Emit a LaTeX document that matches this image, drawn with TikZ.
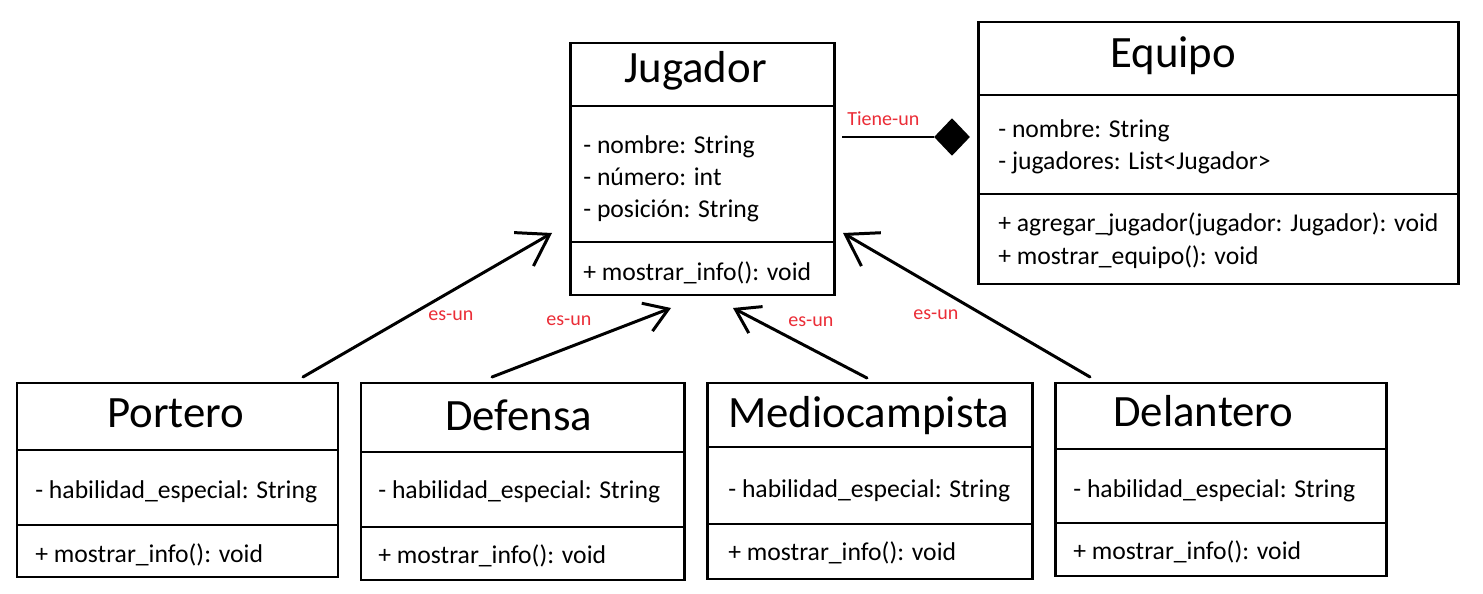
\documentclass[tikz,border=0pt]{standalone}
\usepackage{fontspec}
\setmainfont{Carlito}
\usetikzlibrary{arrows.meta,fit,shapes.geometric}
\definecolor{lblred}{RGB}{235,45,55}
\tikzset{
  umlbox/.style={draw, line width=1.7pt, inner sep=0pt},
  divider/.style={line width=1.7pt},
  ttl/.style={font=\fontsize{25.5}{28}\selectfont, anchor=base west, inner sep=0pt},
  attr/.style={font=\fontsize{14.6}{17}\selectfont, anchor=base west, inner sep=0pt},
  lbl/.style={font=\fontsize{11.4}{13}\selectfont, text=lblred, anchor=base west, inner sep=0pt},
  isabig/.style={line width=1.7pt, line cap=round, -{Straight Barb[length=17pt,width=22pt,line width=1.7pt]}},
  isasmall/.style={line width=1.7pt, line cap=round, -{Straight Barb[length=13pt,width=17pt,line width=1.7pt]}},
  compo/.style={line width=1.7pt},
}
\begin{document}
\begin{tikzpicture}[x=0.02cm,y=-0.02cm]
\useasboundingbox (0,0) rectangle (1483,594);
\fill[white] (0,0) rectangle (1483,594);

% ---------- Jugador ----------
\coordinate (j1) at (570,43); \coordinate (j2) at (834,295);
\node[umlbox, fit=(j1)(j2)] (jugador) {};
\draw[divider] (570,106) -- (834,106);
\draw[divider] (570,242) -- (834,242);
\node[ttl] (jt) at (624,83) {Jugador};
\node[attr] (ja1) at (583,154) {- nombre: String};
\node[attr] (ja2) at (583,186) {- número: int};
\node[attr] (ja3) at (583,218) {- posición: String};
\node[attr] (jm1) at (583,281) {+ mostrar\_info(): void};

% ---------- Equipo ----------
\coordinate (e1) at (978,22); \coordinate (e2) at (1458,284);
\node[umlbox, fit=(e1)(e2)] (equipo) {};
\draw[divider] (978,95) -- (1458,95);
\draw[divider] (978,194) -- (1458,194);
\node[ttl] (et) at (1110,68) {Equipo};
\node[attr] (ea1) at (998,138) {- nombre: String};
\node[attr] (ea2) at (998,170) {- jugadores: List<Jugador>};
\node[attr] (em1) at (998,232) {+ agregar\_jugador(jugador: Jugador): void};
\node[attr] (em2) at (998,265) {+ mostrar\_equipo(): void};

% ---------- Portero ----------
\coordinate (p1) at (17,383); \coordinate (p2) at (338,577);
\node[umlbox, fit=(p1)(p2)] (portero) {};
\draw[divider] (17,450) -- (338,450);
\draw[divider] (17,525) -- (338,525);
\node[ttl] (pt) at (107,427) {Portero};
\node[attr] (pa1) at (35,498) {- habilidad\_especial: String};
\node[attr] (pm1) at (35,562) {+ mostrar\_info(): void};

% ---------- Defensa ----------
\coordinate (d1) at (361,383); \coordinate (d2) at (684,580);
\node[umlbox, fit=(d1)(d2)] (defensa) {};
\draw[divider] (361,452) -- (684,452);
\draw[divider] (361,527) -- (684,527);
\node[ttl] (dt) at (445,430) {Defensa};
\node[attr] (da1) at (378,498) {- habilidad\_especial: String};
\node[attr] (dm1) at (378,563) {+ mostrar\_info(): void};

% ---------- Mediocampista ----------
\coordinate (m1) at (707,383); \coordinate (m2) at (1032,579);
\node[umlbox, fit=(m1)(m2)] (medio) {};
\draw[divider] (707,447) -- (1032,447);
\draw[divider] (707,524) -- (1032,524);
\node[ttl] (mt) at (728,427) {Mediocampista};
\node[attr] (ma1) at (728,497) {- habilidad\_especial: String};
\node[attr] (mm1) at (728,560) {+ mostrar\_info(): void};

% ---------- Delantero ----------
\coordinate (l1) at (1055,383); \coordinate (l2) at (1386,576);
\node[umlbox, fit=(l1)(l2)] (delantero) {};
\draw[divider] (1055,449) -- (1386,449);
\draw[divider] (1055,523) -- (1386,523);
\node[ttl] (lt) at (1113,426) {Delantero};
\node[attr] (la1) at (1073,497) {- habilidad\_especial: String};
\node[attr] (lm1) at (1073,559) {+ mostrar\_info(): void};

% ---------- connector end points ----------
\coordinate (pS) at (303,377); \coordinate (pE) at (552,233);
\coordinate (dS) at (492,377); \coordinate (dE) at (671,308);
\coordinate (mS) at (867,378); \coordinate (mE) at (733,308);
\coordinate (lS) at (1090,377); \coordinate (lE) at (843,233);
\coordinate (cS) at (842,137);

% ---------- generalisations ----------
\draw[isabig] (pS) -- (pE);
\draw[isasmall] (dS) -- (dE);
\draw[isasmall] (mS) -- (mE);
\draw[isabig] (lS) -- (lE);

\node[lbl] (l1lab) at (428,320) {es-un};
\node[lbl] (l2lab) at (546,325) {es-un};
\node[lbl] (l3lab) at (788,326) {es-un};
\node[lbl] (l4lab) at (913,319) {es-un};

% ---------- composition ----------
\node[diamond, fill=black, inner sep=0pt, minimum width=20.5pt, minimum height=21.5pt] (dia) at (952,137) {};
\draw[compo] (cS) -- (dia.west);
\node[lbl] (tlab) at (847,126) {Tiene-un};
\end{tikzpicture}
\end{document}
